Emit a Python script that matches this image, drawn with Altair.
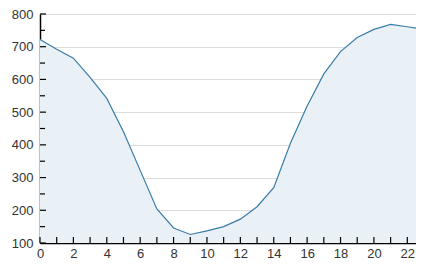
import altair as alt
import pandas as pd

hours = list(range(24))
values = [722, 692, 665, 606, 542, 440, 322, 204, 146, 126, 137, 150,
          173, 211, 269, 405, 519, 617, 685, 728, 753, 768, 761, 753]
x_ticks = list(range(24))
x_labels = list(range(0, 24, 2))
y_major = [100, 200, 300, 400, 500, 600, 700, 800]
y_minor = [150, 250, 350, 450, 550, 650, 750]

W, H = 376, 229   # visible plot width; x scale spans 384 px and is cut at the page edge
df = pd.DataFrame({"h": hours, "v": values})

xs = alt.Scale(domain=[0, 23], nice=False, zero=False, range=[0, 384])
ys = alt.Scale(domain=[100, 800], nice=False, zero=False)

common = dict(domainColor="#000", domainWidth=1.5, labelFontSize=13,
              labelColor="#333", labelFont="Liberation Sans",
              labelOverlap=False, title=None, ticks=False)
x_axis = alt.Axis(values=x_labels, grid=False, labelPadding=4, labelFlush=False, **common)
y_axis = alt.Axis(values=y_major, grid=True, gridColor="#dddddd", labelPadding=7, **common)

area = alt.Chart(df).mark_area(color="#e9f1f6", opacity=1).encode(
    x=alt.X("h:Q", scale=xs, axis=x_axis),
    y=alt.Y("v:Q", scale=ys, axis=y_axis),
    y2=alt.datum(100),
)
line = alt.Chart(df).mark_line(color="#3a7ca8", strokeWidth=1.2).encode(
    x=alt.X("h:Q", scale=xs, axis=x_axis), y=alt.Y("v:Q", scale=ys, axis=y_axis)
)
xt = alt.Chart(pd.DataFrame({"h": x_ticks})).mark_rule(color="#000", strokeWidth=1.2).encode(
    x=alt.X("h:Q", scale=xs, axis=x_axis), y=alt.value(H), y2=alt.value(H - 6)
)
ymaj = alt.Chart(pd.DataFrame({"v": y_major})).mark_rule(color="#000", strokeWidth=1.2).encode(
    y=alt.Y("v:Q", scale=ys, axis=y_axis), x=alt.value(0), x2=alt.value(6)
)
ymin = alt.Chart(pd.DataFrame({"v": y_minor})).mark_rule(color="#000", strokeWidth=1.2).encode(
    y=alt.Y("v:Q", scale=ys, axis=y_axis), x=alt.value(0), x2=alt.value(5)
)

chart = alt.layer(area, line, xt, ymaj, ymin).properties(
    width=W, height=H,
    autosize=alt.AutoSizeParams(type="none"),
    padding={"left": 32, "top": 6, "right": 0, "bottom": 17},
).configure_view(stroke=None)

chart.save("out.html", embed_options={"renderer": "svg", "actions": False})
